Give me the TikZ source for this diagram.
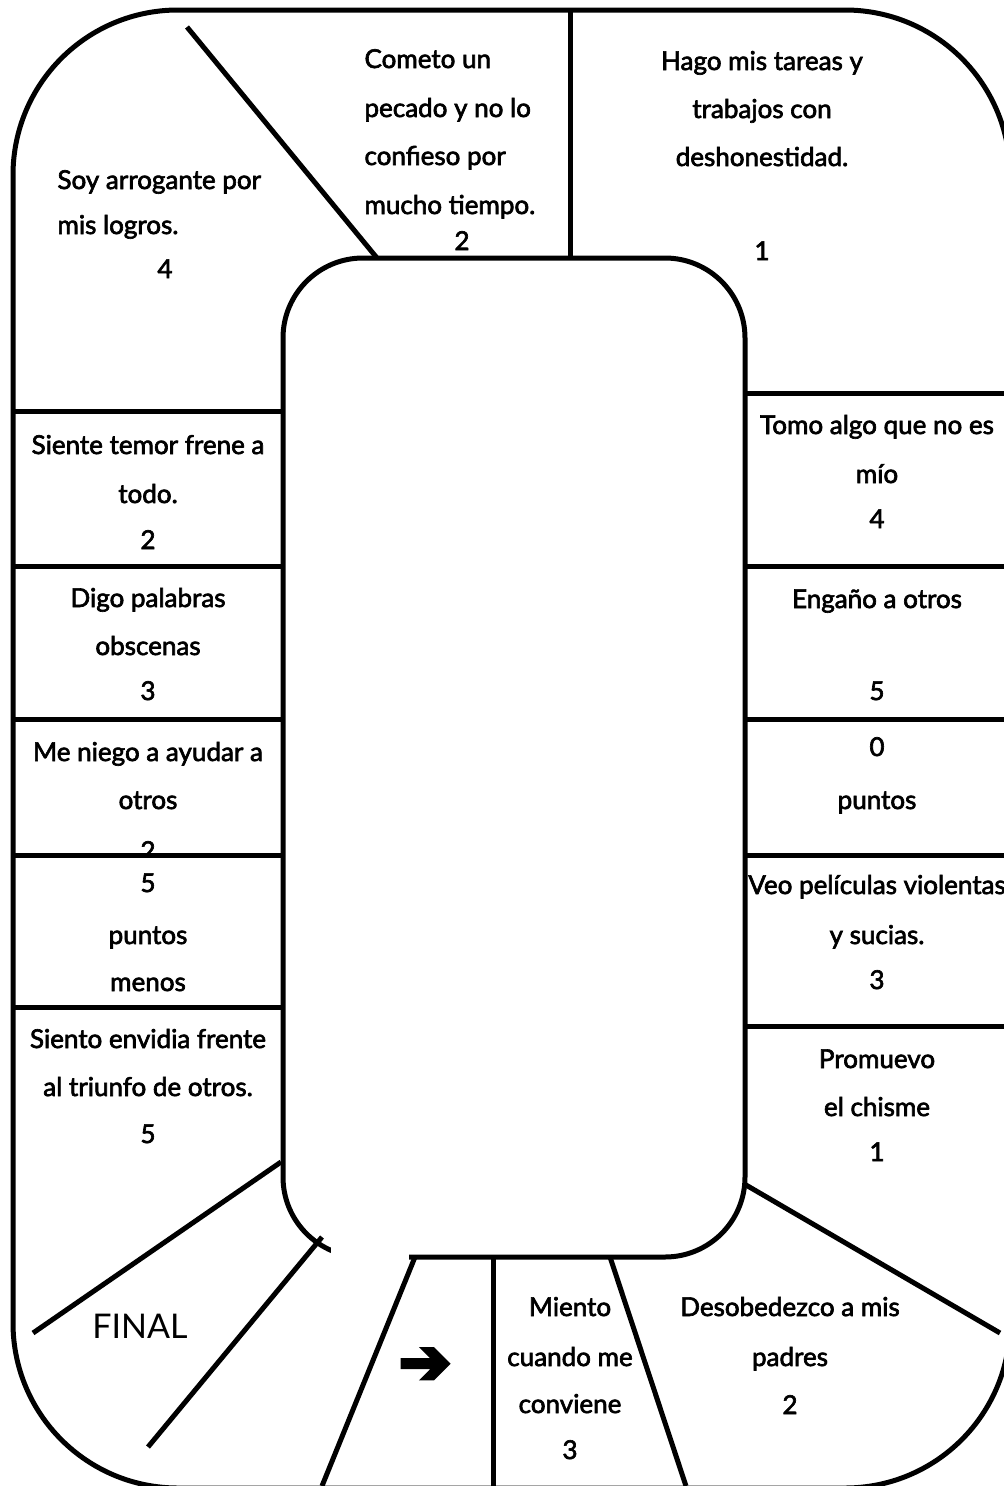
\documentclass[tikz,border=0pt]{standalone}
\usepackage{fontspec}
\setmainfont{Lato}[FakeBold=2.5]
\newfontfamily\finalfont{Lato}
\newfontfamily\arrowfont{DejaVu Sans}[FakeBold=6]
\begin{document}
\begin{tikzpicture}[x=1pt,y=-1pt,line width=5pt,
  txt/.style={inner sep=0pt,font=\fontsize{26}{30}\selectfont,text height=18pt,text depth=6pt},
  ltxt/.style={txt,anchor=west}]
\clip (0,0) rectangle (1004,1486);
% outer border
\draw[rounded corners=165pt] (13,10) rectangle (1010,1488);
% inner rounded rectangle (bottom-left corner left open)
\draw[rounded corners=80pt] (283,258) rectangle (745,1257);
\fill[white] (331,1235) rectangle (409,1275);
% top dividers
\draw (570,10) -- (570,258);
\draw (187,27) -- (377,258);
% left dividers
\foreach \yy in {411,566,719,855,1007} \draw (13,\yy) -- (283,\yy);
% right dividers
\foreach \yy in {393,566,719,855,1026} \draw (745,\yy) -- (1010,\yy);
% bottom-left dividers
\draw (33,1333) -- (281,1162);
\draw (148,1447) -- (322,1237);
% bottom dividers
\draw (415,1257) -- (322,1486);
\draw (493,1257) -- (493,1486);
\draw (610,1257) -- (686,1486);
\draw (746,1185) -- (1000,1333);

% texts: top-left
\node[ltxt] (a1) at (55,183) {Soy arrogante por};
\node[ltxt] (a2) at (55,228) {mis logros.};
\node[txt] (a3) at (165,272) {4};
% Cometo
\node[ltxt] (b1) at (362,62) {Cometo un};
\node[ltxt] (b2) at (362,111) {pecado y no lo};
\node[ltxt] (b3) at (362,159) {confieso por};
\node[ltxt] (b4) at (362,208) {mucho tiempo.};
\node[txt] (b5) at (462,244) {2};
% Hago
\node[txt] (c1) at (762,64) {Hago mis tareas y};
\node[txt] (c2) at (762,112) {trabajos con};
\node[txt] (c3) at (762,160) {deshonestidad.};
\node[txt] (c4) at (762,254) {1};
% right column
\node[txt] (r1a) at (877,428) {Tomo algo que no es};
\node[txt] (r1b) at (877,477) {mío};
\node[txt] (r1c) at (877,522) {4};
\node[txt] (r2a) at (877,602) {Engaño a otros};
\node[txt] (r2b) at (877,694) {5};
\node[txt] (r3a) at (877,750) {0};
\node[txt] (r3b) at (877,803) {puntos};
\node[txt] (r4a) at (877,888) {Veo películas violentas};
\node[txt] (r4b) at (877,938) {y sucias.};
\node[txt] (r4c) at (877,983) {3};
\node[txt] (r5a) at (877,1062) {Promuevo};
\node[txt] (r5b) at (877,1110) {el chisme};
\node[txt] (r5c) at (877,1155) {1};
% left column
\node[txt] (l1a) at (148,448) {Siente temor frene a};
\node[txt] (l1b) at (148,497) {todo.};
\node[txt] (l1c) at (148,543) {2};
\node[txt] (l2a) at (148,601) {Digo palabras};
\node[txt] (l2b) at (148,649) {obscenas};
\node[txt] (l2c) at (148,694) {3};
\node[txt] (l3a) at (148,755) {Me niego a ayudar a};
\node[txt] (l3b) at (148,803) {otros};
\begin{scope}
  \clip (13,820) rectangle (283,852.5);
  \node[txt] (l3c) at (148,854) {2};
\end{scope}
\node[txt] (l4a) at (148,886) {5};
\node[txt] (l4b) at (148,938) {puntos};
\node[txt] (l4c) at (148,985) {menos};
\node[txt] (l5a) at (148,1042) {Siento envidia frente};
\node[txt] (l5b) at (148,1090) {al triunfo de otros.};
\node[txt] (l5c) at (148,1137) {5};
% bottom
\node[inner sep=0pt,font=\finalfont\fontsize{34}{36}\selectfont] (final) at (140,1326) {FINAL};
\node[inner sep=0pt,font=\arrowfont\fontsize{62}{64}\selectfont] (arr) at (425,1366) {➔};
\node[txt] (m1) at (570,1310) {Miento};
\node[txt] (m2) at (570,1360) {cuando me};
\node[txt] (m3) at (570,1407) {conviene};
\node[txt] (m4) at (570,1453) {3};
\node[txt] (d1) at (790,1310) {Desobedezco a mis};
\node[txt] (d2) at (790,1360) {padres};
\node[txt] (d3) at (790,1408) {2};
\end{tikzpicture}
\end{document}
